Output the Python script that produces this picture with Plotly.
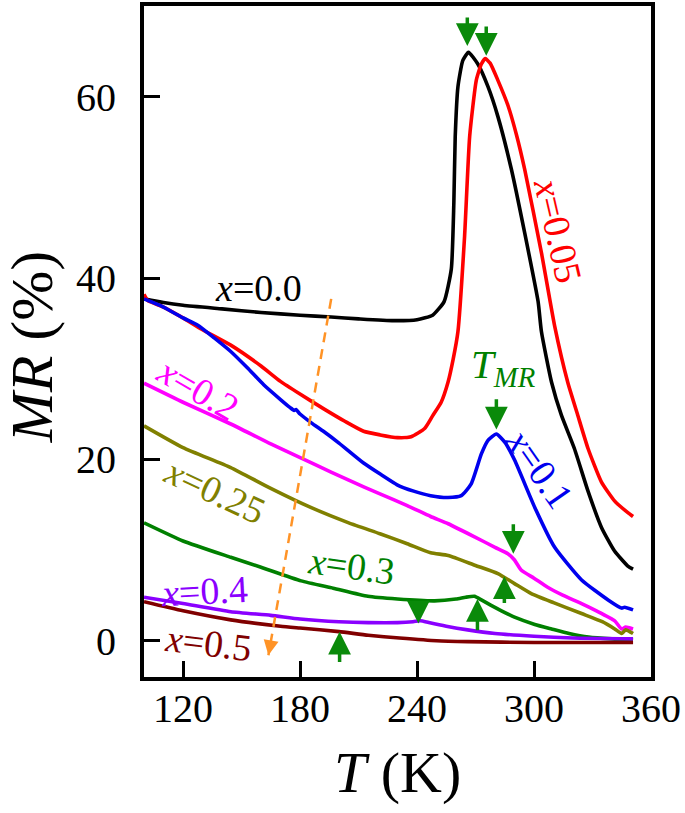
import plotly.graph_objects as go

# ---------------- data ----------------
T_00 = [100, 110, 120, 140, 160, 180, 196, 210, 228, 240, 248, 253.9, 257.6, 258.9, 259.6, 261, 263.5, 266.4,
        271.2, 276.4, 281.5, 288.4, 295.2, 302.1, 303.8, 309, 314, 320.7, 327.7, 334.6, 341.3, 348.3, 350.8]
MR_00 = [37.7, 37.3, 37.0, 36.6, 36.2, 35.9, 35.7, 35.5, 35.3, 35.4, 35.9, 37.4, 41.0, 48.3, 55.6, 61.1, 64.0, 64.9,
         63.6, 61.1, 57.8, 52.0, 45.0, 37.4, 34.1, 28.5, 24.9, 21.2, 16.5, 12.5, 9.9, 8.2, 7.9]

T_005 = [100, 102, 110, 120, 130, 144.5, 160, 170, 180, 192, 203, 212.6, 221.1, 230, 237, 243.9, 248, 252.4, 255.9,
         258.5, 261, 264.4, 267, 270.4, 273, 275, 277.5, 281.5, 286.7, 291, 295.2, 303.8, 310.6, 317.3, 322.4, 327.7,
         334.6, 341.4, 348.3, 350.8]
MR_005 = [38.2, 37.5, 36.8, 35.6, 34.3, 32.6, 30.3, 28.6, 27.2, 25.6, 24.2, 23.1, 22.7, 22.4, 22.5, 23.4, 24.8, 26.3,
          28.5, 31.0, 34.1, 44.6, 55.6, 61.8, 63.6, 64.2, 63.7, 61.8, 59.0, 55.8, 52.0, 42.8, 34.7, 28.5, 24.9, 21.2,
          17.5, 15.4, 14.1, 13.7]

T_01 = [100, 110, 120, 127.6, 136, 144.5, 153, 161.5, 170, 175, 177, 178, 180, 186, 192, 200, 212.6, 221.7, 229.8,
        238.3, 247, 255.9, 262.7, 267.8, 273, 276.4, 280.7, 285, 290.1, 300.4, 310.6, 324.4, 338, 344.9, 346.5, 350.8]
MR_01 = [37.7, 36.8, 35.6, 34.8, 33.4, 31.9, 30.1, 28.2, 26.6, 25.7, 25.4, 25.5, 25.0, 24.0, 23.1, 21.8, 19.6, 18.3,
         17.2, 16.5, 16.0, 15.8, 16.0, 17.3, 20.6, 22.1, 22.8, 21.9, 19.9, 14.7, 10.3, 6.7, 4.5, 3.6, 3.7, 3.4]

T_02 = [100, 120, 144.5, 165, 187, 205, 221, 235, 247, 256, 270, 280, 286.6, 290, 293.4, 300, 307, 315, 324.4, 332,
        341.4, 344.9, 347, 350.8]
MR_02 = [28.4, 26.3, 23.9, 21.7, 19.5, 17.7, 16.2, 14.9, 13.7, 12.9, 11.4, 10.3, 9.6, 8.9, 7.8, 6.9, 5.9, 5.0, 4.1, 3.3,
         2.2, 1.3, 1.5, 1.3]

T_025 = [100, 120, 144.5, 165, 185.5, 205, 221, 235, 247, 256, 270, 281.5, 290, 298.6, 310, 324.4, 335, 341.4, 344.9,
         347, 350.8]
MR_025 = [23.7, 21.3, 19.1, 16.8, 14.7, 13.0, 11.8, 10.7, 9.7, 9.4, 8.3, 7.4, 6.3, 5.2, 4.2, 3.0, 2.1, 1.3, 0.8, 1.2, 0.8]

T_03 = [100, 120, 144.5, 160, 180.6, 197, 214.8, 230, 249, 260, 265, 269.5, 273, 278, 283.3, 290, 300.4, 309, 318, 328,
        340, 350.8]
MR_03 = [13.0, 11.0, 9.2, 8.1, 6.6, 5.8, 4.9, 4.6, 4.4, 4.6, 4.8, 4.9, 4.5, 3.9, 3.3, 2.6, 1.8, 1.3, 0.8, 0.4, 0.2, 0.1]

T_04 = [100, 120, 144.5, 165, 180, 200, 215, 230, 238, 241.8, 246, 255, 266, 280, 300, 320, 350.8]
MR_04 = [4.8, 4.1, 3.2, 2.8, 2.4, 2.1, 2.0, 2.0, 2.1, 2.2, 2.0, 1.6, 1.2, 0.8, 0.5, 0.3, 0.2]

T_05 = [100, 120, 144.5, 170, 180, 200, 215, 231, 250, 266, 300, 350.8]
MR_05 = [4.3, 3.3, 2.3, 1.6, 1.4, 1.0, 0.6, 0.3, 0.0, -0.1, -0.2, -0.2]

x_ticks = [120, 180, 240, 300, 360]
y_ticks = [0, 20, 40, 60]

# T_MR arrows: (T, tail MR, tip MR)
arrow_T = [265.8, 275.5, 280.7, 289.4, 284.8, 271.0, 240.7, 200.3]
arrow_tail = [68.9, 67.9, 26.8, 13.0, 4.0, 1.0, 4.3, -2.5]
arrow_tip = [65.6, 64.5, 23.3, 9.6, 7.1, 4.6, 1.9, 1.0]

# orange dashed trend arrow
trend_T = [196.0, 163.8]
trend_MR = [37.7, -1.6]

series = [
    ("x=0.0", T_00, MR_00, "#000000"),
    ("x=0.05", T_005, MR_005, "#FF0000"),
    ("x=0.1", T_01, MR_01, "#0000EE"),
    ("x=0.2", T_02, MR_02, "#FF00FF"),
    ("x=0.25", T_025, MR_025, "#808000"),
    ("x=0.3", T_03, MR_03, "#008000"),
    ("x=0.4", T_04, MR_04, "#8A00FF"),
    ("x=0.5", T_05, MR_05, "#800000"),
]

# label text, position (T, MR), angle, colour
labels = [
    ("<i>x</i>=0.0", 158.8, 38.9, 0, "#000000"),
    ("<i>x</i>=0.05", 312.5, 45.2, 77, "#FF0000"),
    ("<i>x</i>=0.1", 302.6, 19.0, 55, "#0000EE"),
    ("<i>x</i>=0.2", 127.9, 27.8, 30, "#FF00FF"),
    ("<i>x</i>=0.25", 136.4, 16.5, 25, "#808000"),
    ("<i>x</i>=0.3", 206.6, 8.2, 8, "#008000"),
    ("<i>x</i>=0.4", 130.8, 5.5, -3, "#8A00FF"),
    ("<i>x</i>=0.5", 133.0, -0.2, 7, "#800000"),
]

FONT = "Liberation Serif"

fig = go.Figure()
for name, t, mr, c in series:
    fig.add_trace(go.Scatter(x=t, y=mr, mode="lines", name=name,
                             line=dict(color=c, width=3.6, shape="spline", smoothing=0.5)))

fig.add_trace(go.Scatter(x=trend_T, y=trend_MR, mode="lines",
                         line=dict(color="#FF9326", width=2.5, dash="10px,7px")))

ann = []
for txt, tx, ty, ang, c in labels:
    ann.append(dict(x=tx, y=ty, xref="x", yref="y", text=txt, showarrow=False, textangle=ang,
                    font=dict(family=FONT, size=38, color=c)))

ann.append(dict(x=284.3, y=30.2, xref="x", yref="y", text="<i>T<sub>MR</sub></i>", showarrow=False,
                font=dict(family=FONT, size=41, color="#008000")))

for t, a0, a1 in zip(arrow_T, arrow_tail, arrow_tip):
    ann.append(dict(x=t, y=a1, ax=t, ay=a0, xref="x", yref="y", axref="x", ayref="y", text="",
                    showarrow=True, arrowhead=2, arrowsize=1.3, arrowwidth=3.5, arrowcolor="#0A8A0A",
                    standoff=0, startstandoff=0))

# orange arrowhead at the end of the dashed line
ann.append(dict(x=trend_T[1], y=trend_MR[1], ax=trend_T[1] + 0.6, ay=trend_MR[1] + 0.7,
                xref="x", yref="y", axref="x", ayref="y", text="", showarrow=True,
                arrowhead=2, arrowsize=1.2, arrowwidth=2.5, arrowcolor="#FF9326", standoff=0))

# axis titles
ann.append(dict(x=0.5, y=-0.143, xref="paper", yref="paper", text="<i>T</i> (K)", showarrow=False,
                xanchor="center", yanchor="middle", font=dict(family=FONT, size=58, color="#000000")))
ann.append(dict(x=-0.222, y=0.492, xref="paper", yref="paper", text="<i>MR</i> (%)", showarrow=False,
                textangle=-90, xanchor="center", yanchor="middle",
                font=dict(family=FONT, size=60, color="#000000")))

fig.update_layout(
    width=685, height=813,
    margin=dict(l=144, r=34, t=2, b=136),
    paper_bgcolor="white", plot_bgcolor="white",
    showlegend=False,
    annotations=ann,
    font=dict(family=FONT, color="#000000"),
)
fig.update_xaxes(range=[100, 360], tickvals=x_ticks, ticktext=[str(v) for v in x_ticks],
                 ticks="inside", ticklen=16, tickwidth=3, tickcolor="black",
                 showline=True, linewidth=4, linecolor="black", mirror=True,
                 showgrid=False, zeroline=False, ticklabelstandoff=-7,
                 tickfont=dict(family=FONT, size=40, color="black"))
fig.update_yaxes(range=[-4, 70], tickvals=y_ticks, ticktext=[str(v) for v in y_ticks],
                 ticks="inside", ticklen=16, tickwidth=3, tickcolor="black",
                 showline=True, linewidth=4, linecolor="black", mirror=True,
                 showgrid=False, zeroline=False, ticklabelstandoff=16,
                 tickfont=dict(family=FONT, size=40, color="black"))

fig.write_html("out.html", config={"displayModeBar": False},
               post_script="document.body.style.margin='0';document.body.style.overflow='hidden';")
